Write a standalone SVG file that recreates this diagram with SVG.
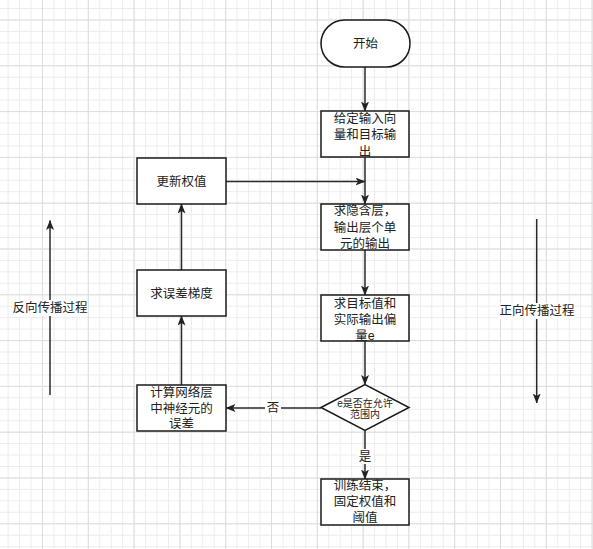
<svg xmlns="http://www.w3.org/2000/svg" width="593" height="549" viewBox="0 0 593 549">
<defs>
<pattern id="minor" patternUnits="userSpaceOnUse" x="7.65" y="8" width="11.45" height="11.45">
<path d="M0,0.5 H11.45 M0.5,0 V11.45" fill="none" stroke="#ececec" stroke-width="1"/>
</pattern>
<pattern id="major" patternUnits="userSpaceOnUse" x="42" y="19.5" width="45.8" height="45.8">
<path d="M0,0.5 H45.8 M0.5,0 V45.8" fill="none" stroke="#dddddd" stroke-width="1"/>
</pattern>
<marker id="arr" viewBox="0 0 10 8" markerWidth="10" markerHeight="8" refX="9.5" refY="4" orient="auto" markerUnits="userSpaceOnUse">
<path d="M0,0 L10,4 L0,8 L2.5,4 Z" fill="#222"/>
</marker>
<style>
.box{fill:#fff;stroke:#1a1a1a;stroke-width:1.5}
.t{font-family:"Liberation Sans","Noto Sans CJK SC",sans-serif;font-size:12.5px;fill:#222;text-anchor:middle;dominant-baseline:central}
.s{font-size:10px}
.ln{fill:none;stroke:#2a2a2a;stroke-width:1.5;marker-end:url(#arr)}
.bg{fill:#fff}
</style>
</defs>
<rect width="593" height="549" fill="#fff"/>
<rect width="593" height="549" fill="url(#minor)"/>
<rect width="593" height="549" fill="url(#major)"/>

<g id="connectors">
<line class="ln" x1="365" y1="67" x2="365" y2="111"/>
<line class="ln" x1="365" y1="157" x2="365" y2="204"/>
<line class="ln" x1="226" y1="181.5" x2="365" y2="181.5"/>
<line class="ln" x1="365" y1="250" x2="365" y2="295"/>
<line class="ln" x1="365" y1="341" x2="365" y2="384.5"/>
<line class="ln" x1="365" y1="430.5" x2="365" y2="479"/>
<rect class="bg" x="357" y="449" width="16" height="15"/>
<text class="t" x="365" y="456.5">是</text>
<line class="ln" x1="321" y1="408" x2="226" y2="408"/>
<rect class="bg" x="265" y="400.5" width="16" height="15"/>
<text class="t" x="273" y="408">否</text>
<line class="ln" x1="181.5" y1="385" x2="181.5" y2="316"/>
<line class="ln" x1="181.5" y1="270" x2="181.5" y2="204"/>
<line class="ln" x1="50" y1="395" x2="50" y2="220.5"/>
<rect class="bg" x="12" y="300" width="76" height="16"/>
<text class="t" x="50" y="308">反向传播过程</text>
<line class="ln" x1="536.7" y1="219" x2="536.7" y2="403"/>
<rect class="bg" x="499" y="303" width="76" height="16"/>
<text class="t" x="537" y="311">正向传播过程</text>
</g>

<g id="start">
<rect class="box" x="321" y="20" width="89" height="47" rx="23.5"/>
<text class="t" x="365.5" y="43.5">开始</text>
</g>
<g id="input">
<rect class="box" x="321" y="111" width="88" height="46"/>
<text class="t" x="365"><tspan x="365" y="118.5">给定输入向</tspan><tspan x="365" y="135">量和目标输</tspan><tspan x="365" y="151.5">出</tspan></text>
</g>
<g id="hidden">
<rect class="box" x="321" y="204" width="88" height="46"/>
<text class="t" x="365"><tspan x="365" y="211">求隐含层，</tspan><tspan x="365" y="227.5">输出层个单</tspan><tspan x="365" y="244">元的输出</tspan></text>
</g>
<g id="deviation">
<rect class="box" x="321" y="295" width="88" height="46"/>
<text class="t" x="365"><tspan x="365" y="303.5">求目标值和</tspan><tspan x="365" y="319.5">实际输出偏</tspan><tspan x="365" y="335.5">量e</tspan></text>
</g>
<g id="decision">
<polygon class="box" points="321,407.5 365,384.5 409,407.5 365,430.5"/>
<text class="t s" x="365"><tspan x="365" y="402.5">e是否在允许</tspan><tspan x="365" y="414">范围内</tspan></text>
</g>
<g id="end">
<rect class="box" x="321" y="479" width="88" height="46"/>
<text class="t" x="365"><tspan x="365" y="486">训练结束，</tspan><tspan x="365" y="502">固定权值和</tspan><tspan x="365" y="518">阈值</tspan></text>
</g>
<g id="error">
<rect class="box" x="137" y="385" width="89" height="46"/>
<text class="t" x="181.5"><tspan x="181.5" y="393">计算网络层</tspan><tspan x="181.5" y="408.5">中神经元的</tspan><tspan x="181.5" y="424">误差</tspan></text>
</g>
<g id="gradient">
<rect class="box" x="137" y="270" width="89" height="46"/>
<text class="t" x="181.5" y="293.5">求误差梯度</text>
</g>
<g id="update">
<rect class="box" x="137" y="158" width="89" height="46"/>
<text class="t" x="181.5" y="181.5">更新权值</text>
</g>
</svg>
